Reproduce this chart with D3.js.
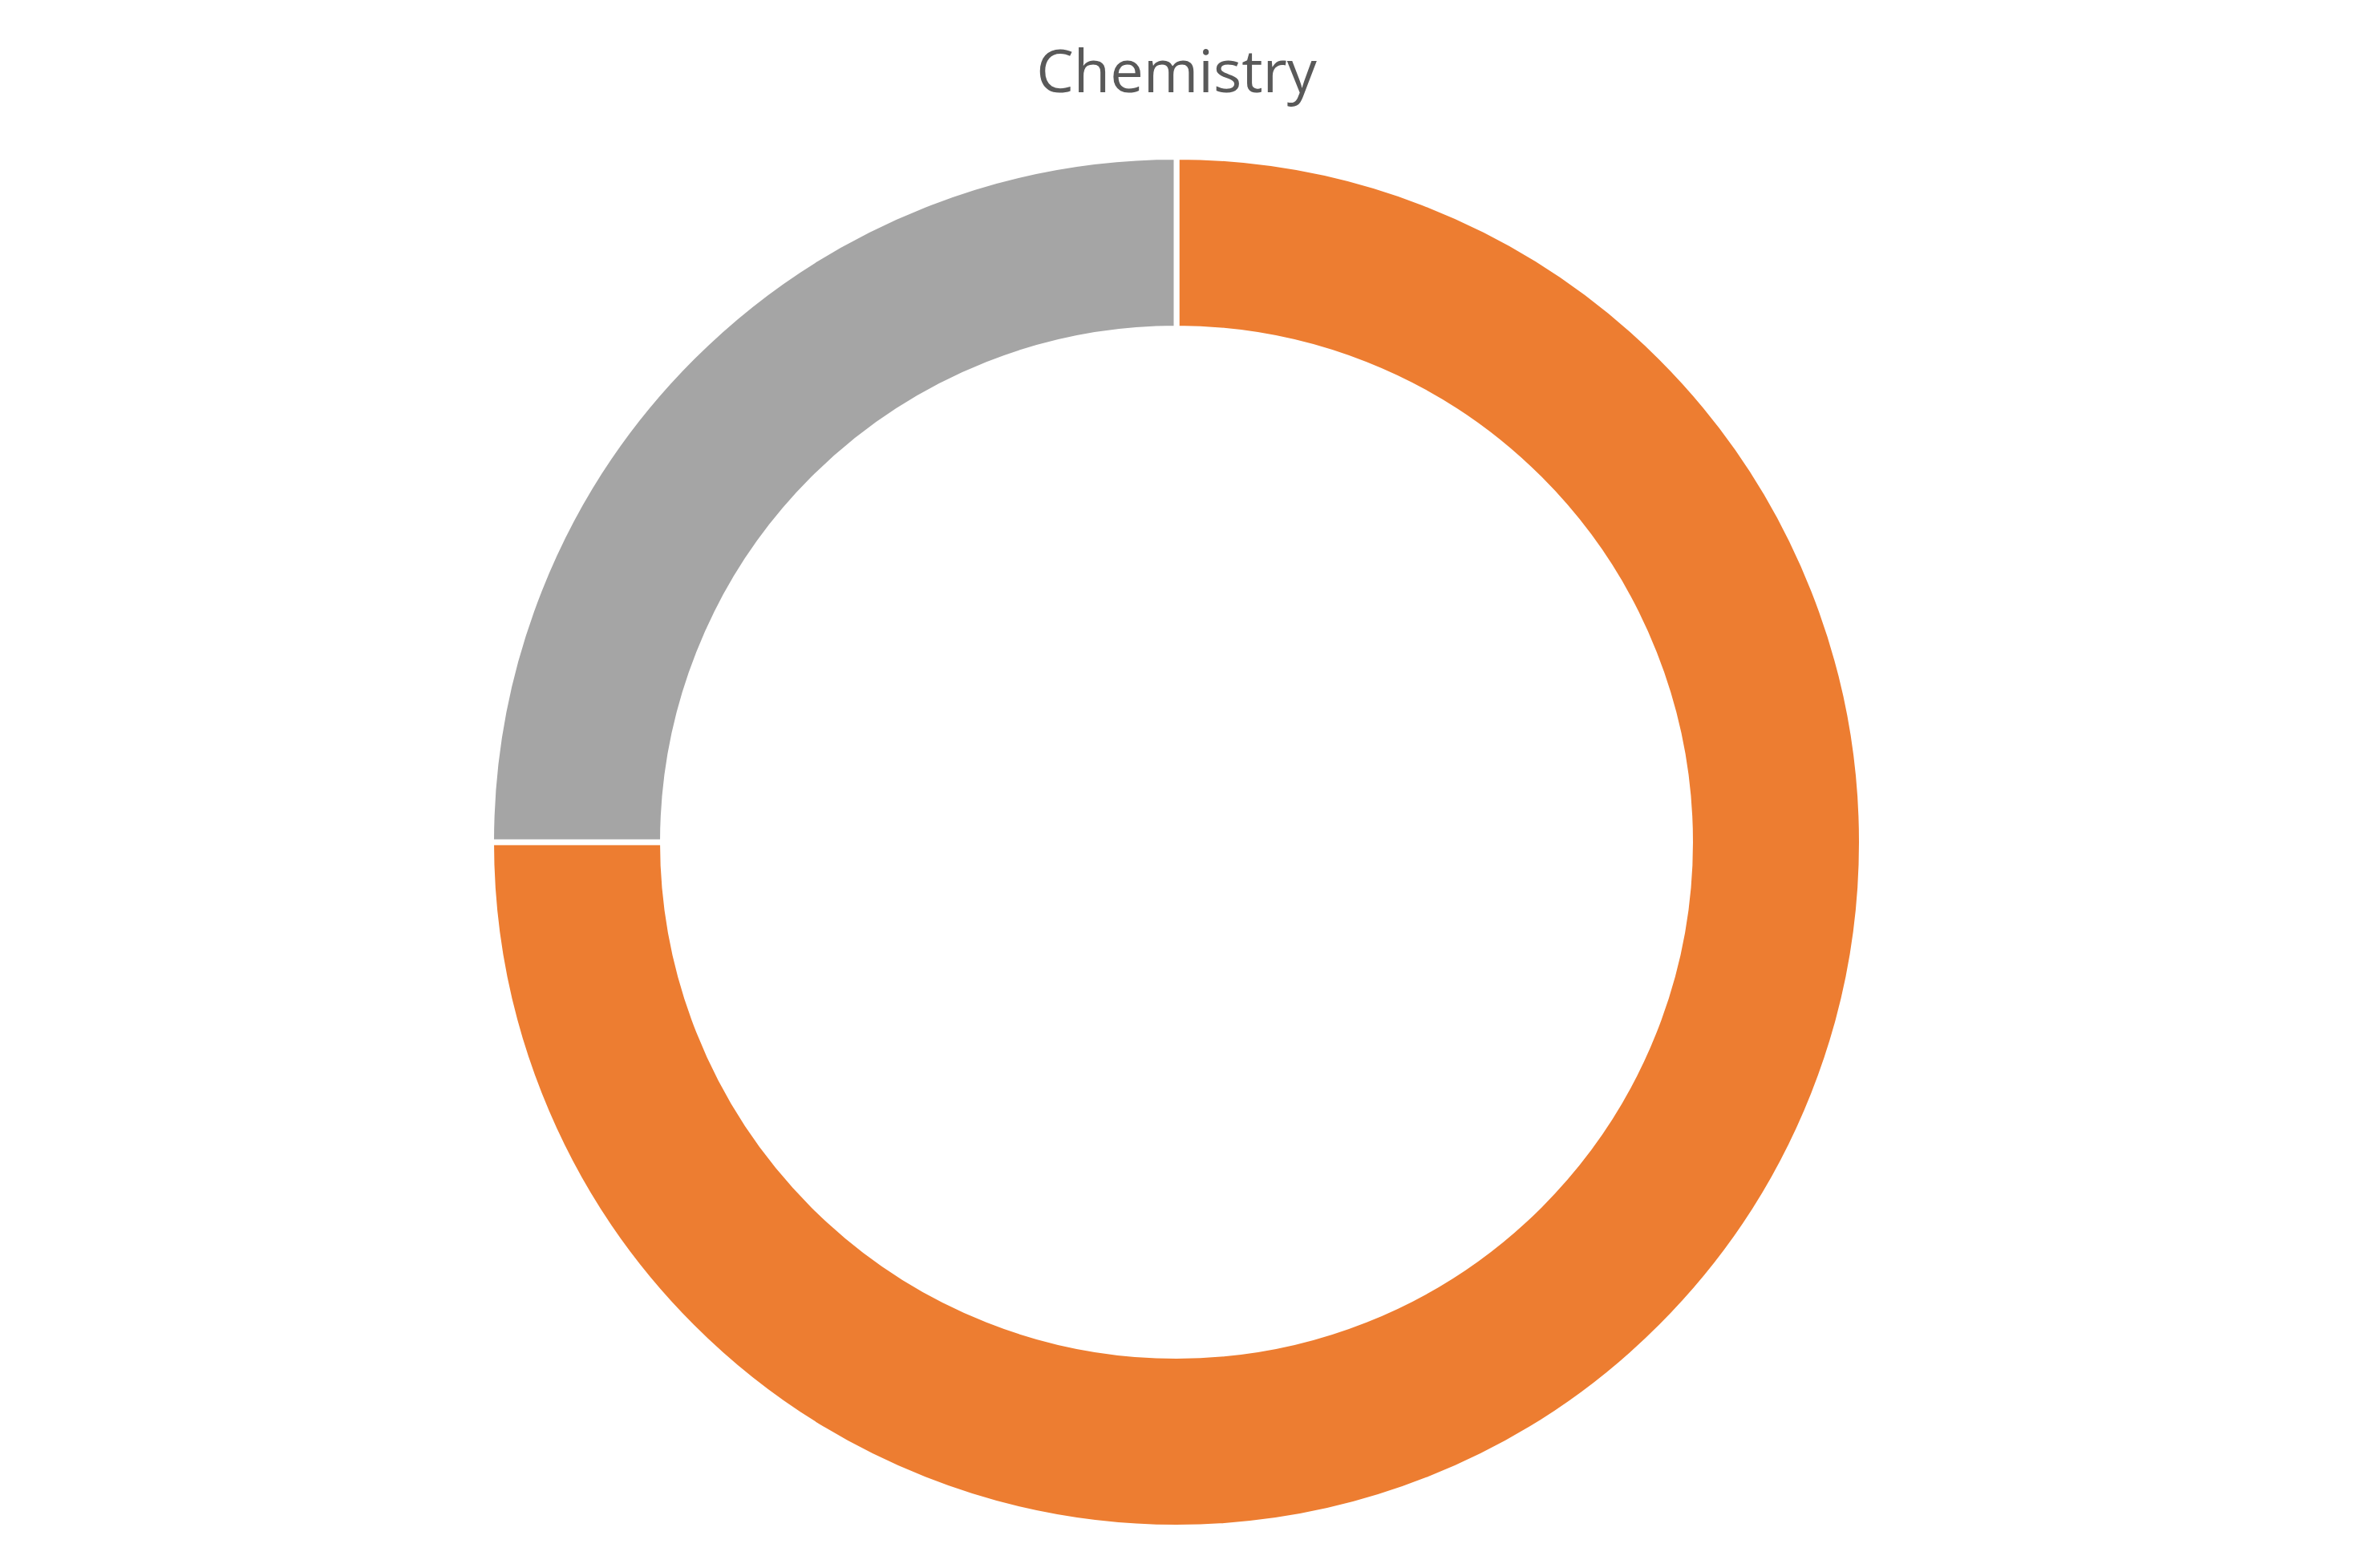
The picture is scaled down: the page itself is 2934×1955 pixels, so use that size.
<!DOCTYPE html>
<html><head><meta charset="utf-8">
<script src="https://cdn.jsdelivr.net/npm/d3@7"></script>
<style>html,body{margin:0;padding:0;background:#fff;}svg{display:block;}</style>
</head><body>
<script>
const categories = ["Blank", "Chemistry", "Remaining"];
const values = [0, 75, 25];
const colors = ["#4472C4", "#ED7D31", "#A5A5A5"];
const title = "Chemistry";

const W = 2934, H = 1955;
const cx = 1467, cy = 1050, outerR = 851, innerR = 644, sw = 7;

const svg = d3.select("body").append("svg").attr("width", W).attr("height", H);

const pie = d3.pie().sort(null).value(d => d.v);
const arcs = pie(categories.map((c, i) => ({c, v: values[i], col: colors[i]})));
const arc = d3.arc().innerRadius(innerR - sw/2).outerRadius(outerR + sw/2);

svg.append("g").attr("transform", `translate(${cx},${cy})`)
  .selectAll("path").data(arcs.filter(d => d.data.v > 0)).join("path")
  .attr("d", arc)
  .attr("fill", d => d.data.col)
  .attr("stroke", "#fff")
  .attr("stroke-width", sw)
  .attr("stroke-linejoin", "miter");

svg.append("text")
  .attr("x", cx).attr("y", 115)
  .attr("text-anchor", "middle")
  .attr("font-family", "'Open Sans', sans-serif")
  .attr("font-size", 74)
  .attr("fill", "#595959")
  .text(title);
</script>
</body></html>
